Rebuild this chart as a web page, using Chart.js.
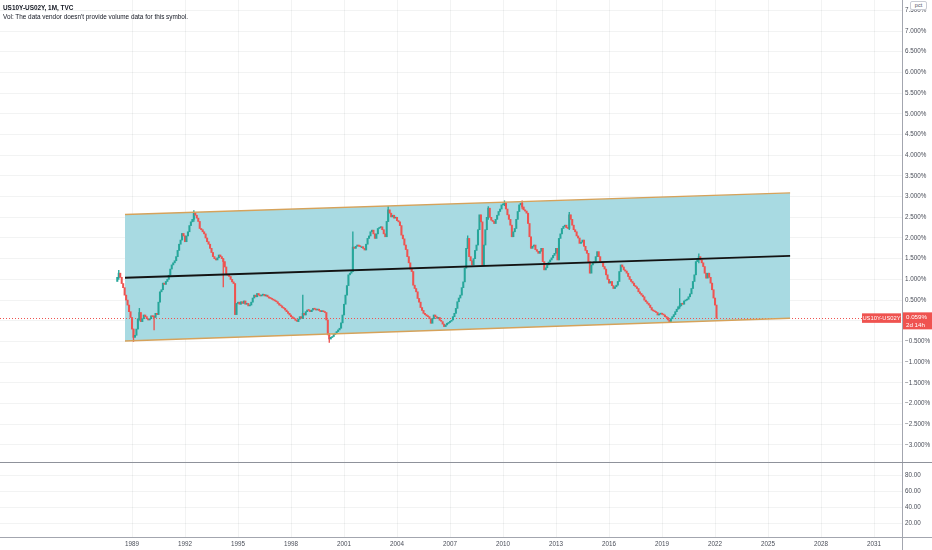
<!DOCTYPE html>
<html>
<head>
<meta charset="utf-8">
<script src="https://cdn.jsdelivr.net/npm/chart.js@4.4.0/dist/chart.umd.min.js"></script>
<style>
  html, body { margin: 0; padding: 0; background: #fff; }
  #wrap { position: relative; width: 932px; height: 550px; overflow: hidden; font-family: "Liberation Sans", Arial, sans-serif; }
  #main { position: absolute; left: 0; top: 0; }
  #vol { position: absolute; left: 0; top: 463px; }
  .legend { position: absolute; left: 3px; top: 3px; color: #131722; font-size: 6.4px; line-height: 9px; }
  .legend b { font-weight: bold; }
  .pct { position: absolute; left: 910px; top: 1px; width: 15px; height: 7px; background: #fff; border: 1px solid #c9ccd4;
         border-radius: 2px; font-size: 5.5px; line-height: 7px; text-align: center; color: #50535e; }
</style>
</head>
<body>
<div id="wrap">
  <canvas id="main" width="932" height="463"></canvas>
  <canvas id="vol" width="932" height="87"></canvas>
  <div class="legend"><b>US10Y-US02Y, 1M, TVC</b><br>Vol: The data vendor doesn't provide volume data for this symbol.</div>
  <div class="pct">pct</div>
</div>
<script>
// monthly closes (pct), first candle 1988-04, last 2022-03
const startMonth = -10;   // months relative to the 1989 tick
const firstOpen = 0.95;
const closes = [
  1.05, 1.15, 1.05, 0.90, 0.80, 0.62, 0.50, 0.38, 0.22, 0.08,
  -0.20, -0.40, -0.35, -0.20, 0.05, 0.20, -0.02, 0.05, 0.14, 0.10, 0.05, 0.02,
  0.05, 0.12, 0.10, 0.08, 0.18, 0.15, 0.45, 0.70, 0.75, 0.91, 0.88, 0.95,
  1.00, 1.10, 1.25, 1.35, 1.40, 1.45, 1.55, 1.70, 1.85, 1.95, 2.11, 2.05,
  1.91, 2.05, 2.15, 2.30, 2.39, 2.45, 2.60, 2.55, 2.48, 2.40, 2.23, 2.20,
  2.15, 2.10, 2.00, 1.91, 1.85, 1.75, 1.65, 1.55, 1.50, 1.47, 1.52, 1.59,
  1.55, 1.50, 1.43, 1.30, 1.11, 1.10, 1.07, 1.00, 0.94, 0.90, 0.15, 0.42,
  0.45, 0.40, 0.46, 0.42, 0.48, 0.40, 0.42, 0.36, 0.38, 0.45, 0.55, 0.62,
  0.58, 0.66, 0.62, 0.60, 0.62, 0.64, 0.60, 0.62, 0.58, 0.55, 0.54, 0.52,
  0.50, 0.48, 0.46, 0.42, 0.38, 0.36, 0.32, 0.30, 0.26, 0.22, 0.18, 0.14,
  0.10, 0.06, 0.05, 0.00, -0.02, 0.04, 0.10, 0.06, 0.18, 0.14, 0.22, 0.26,
  0.25, 0.22, 0.26, 0.30, 0.28, 0.26, 0.28, 0.25, 0.22, 0.24, 0.22, 0.20,
  0.02, -0.34, -0.44, -0.40, -0.38, -0.33, -0.30, -0.26, -0.22, -0.18, -0.05, 0.14,
  0.40, 0.62, 0.85, 1.11, 1.15, 1.19, 1.78, 1.75, 1.80, 1.83, 1.80, 1.79,
  1.79, 1.75, 1.71, 1.85, 1.99, 2.05, 2.15, 2.19, 2.10, 1.99, 2.10, 2.23,
  2.25, 2.27, 2.20, 2.10, 2.03, 2.40, 2.68, 2.60, 2.51, 2.55, 2.48, 2.50,
  2.42, 2.39, 2.30, 2.07, 1.98, 1.83, 1.72, 1.55, 1.40, 1.25, 1.19, 0.86,
  0.78, 0.70, 0.54, 0.45, 0.32, 0.25, 0.18, 0.15, 0.12, 0.10, 0.05, -0.06,
  0.05, 0.14, 0.10, 0.06, 0.08, 0.00, -0.02, -0.08, -0.14, -0.10, -0.06, -0.04,
  0.00, 0.02, 0.10, 0.18, 0.30, 0.46, 0.55, 0.62, 0.80, 0.94, 1.27, 1.75,
  1.99, 1.55, 1.45, 1.35, 1.50, 1.70, 1.83, 2.20, 2.56, 2.39, 1.35, 1.83,
  2.20, 2.50, 2.72, 2.50, 2.43, 2.40, 2.35, 2.45, 2.55, 2.64, 2.70, 2.80,
  2.82, 2.84, 2.70, 2.56, 2.45, 2.31, 2.03, 2.15, 2.23, 2.45, 2.64, 2.80,
  2.84, 2.75, 2.68, 2.65, 2.60, 2.35, 2.03, 1.75, 1.80, 1.83, 1.72, 1.68,
  1.63, 1.68, 1.75, 1.43, 1.23, 1.28, 1.35, 1.42, 1.47, 1.52, 1.58, 1.63,
  1.75, 1.47, 1.99, 2.10, 2.23, 2.28, 2.31, 2.25, 2.23, 2.56, 2.45, 2.31,
  2.20, 2.15, 2.05, 2.00, 1.87, 1.90, 1.95, 1.80, 1.70, 1.63, 1.43, 1.15,
  1.35, 1.40, 1.43, 1.55, 1.67, 1.55, 1.43, 1.40, 1.31, 1.25, 1.11, 1.00,
  0.91, 0.95, 0.85, 0.78, 0.82, 0.86, 0.95, 1.19, 1.35, 1.30, 1.23, 1.20,
  1.15, 1.07, 1.00, 0.95, 0.91, 0.85, 0.82, 0.78, 0.70, 0.66, 0.62, 0.58,
  0.50, 0.46, 0.42, 0.38, 0.32, 0.26, 0.24, 0.22, 0.20, 0.14, 0.16, 0.18,
  0.16, 0.14, 0.10, 0.08, 0.02, -0.02, 0.05, 0.10, 0.15, 0.22, 0.28, 0.34,
  0.36, 0.42, 0.40, 0.48, 0.50, 0.52, 0.58, 0.65, 0.78, 0.95, 1.11, 1.43,
  1.50, 1.55, 1.47, 1.40, 1.31, 1.15, 1.03, 1.15, 1.05, 0.91, 0.75, 0.55,
  0.38, 0.059
];
// visible wicks: [month, low, high]
const wicks = [
  [-9, 1.00, 1.22], [1, -0.50, -0.20], [5, 0.00, 0.30], [15, -0.22, 0.12],
  [42, 2.40, 2.66], [62, 0.82, 1.50], [116, 0.06, 0.62], [134, -0.52, -0.30],
  [150, 1.19, 2.15], [174, 2.40, 2.76], [228, 1.75, 2.05], [242, 2.45, 2.76],
  [253, 2.78, 2.90], [265, 2.70, 2.90], [297, 2.20, 2.62], [372, 0.30, 0.78],
  [385, 1.40, 1.62]
];

// regression channel (drawing)
const channelX = [-4.75, 447];
const channelUpper = [2.57, 3.09];
const channelMid = [1.04, 1.57];
const channelLower = [-0.49, 0.06];

const tickLabels = ['1989','1992','1995','1998','2001','2004','2007','2010','2013','2016','2019','2022','2025','2028','2031'];
const yTicks = [-3, -2.5, -2, -1.5, -1, -0.5, 0, 0.5, 1, 1.5, 2, 2.5, 3, 3.5, 4, 4.5, 5, 5.5, 6, 6.5, 7, 7.5];
const volTicks = [20, 40, 60, 80];
const lastPrice = 0.059;
const symbol = 'US10Y-US02Y';
const countdown = '2d 14h';

const UP = '#26a69a', DOWN = '#ef5350';
const GRID = 'rgba(42,46,57,0.06)';
const AXIS = '#a3a6af';
const FONT = '"Liberation Sans", Arial, sans-serif';
Chart.defaults.font.family = FONT;

const xMin = -89.66, xMax = 523.0;   // months, 1.472px each
const tickMonths = tickLabels.map(t => (Number(t) - 1989) * 12);

const bodies = closes.map((c, i) => ({ x: startMonth + i, y: [i ? closes[i - 1] : firstOpen, c] }));
const bodyColors = bodies.map(b => b.y[1] >= b.y[0] ? UP : DOWN);
const wickData = wicks.map(w => ({ x: w[0], y: [w[1], w[2]] }));
const wickColors = wicks.map(w => bodyColors[w[0] - startMonth]);

const fmtPct = v => (v < 0 ? '\u2212' : '') + Math.abs(v).toFixed(3) + '%';
const noPad = s => { s.paddingTop = 0; s.paddingBottom = 0; s.paddingLeft = 0; s.paddingRight = 0; };

const decor = {
  id: 'decor',
  beforeDatasetsDraw(chart) {
    const { ctx, chartArea: a, scales: { y } } = chart;
    const py = Math.round(y.getPixelForValue(lastPrice)) + 0.5;
    ctx.save();
    ctx.strokeStyle = DOWN;
    ctx.lineWidth = 1;
    ctx.setLineDash([1, 2]);
    ctx.beginPath(); ctx.moveTo(a.left, py); ctx.lineTo(a.right, py); ctx.stroke();
    ctx.restore();
  },
  afterDraw(chart) {
    const { ctx, chartArea: a, scales: { y } } = chart;
    const py = y.getPixelForValue(lastPrice);
    ctx.save();
    // symbol tag
    ctx.fillStyle = DOWN;
    ctx.fillRect(a.right - 40, py - 5, 39, 9.5);
    ctx.fillStyle = '#fff';
    ctx.font = '5.8px ' + FONT;
    ctx.textAlign = 'center'; ctx.textBaseline = 'middle';
    ctx.fillText(symbol, a.right - 20.5, py);
    // axis price tag
    ctx.fillStyle = DOWN;
    ctx.fillRect(a.right + 1, py - 6, chart.width - a.right - 1, 17);
    ctx.fillStyle = '#fff';
    ctx.font = '6.2px ' + FONT;
    ctx.textAlign = 'left';
    ctx.fillText(fmtPct(lastPrice), a.right + 4, py - 1);
    ctx.fillText(countdown, a.right + 4, py + 6.5);
    // pane separator
    ctx.strokeStyle = '#8f929b';
    ctx.beginPath(); ctx.moveTo(0, chart.height - 0.5); ctx.lineTo(chart.width, chart.height - 0.5); ctx.stroke();
    ctx.restore();
  }
};

new Chart(document.getElementById('main'), {
  type: 'bar',
  data: {
    datasets: [
      { type: 'line', data: channelX.map((x, i) => ({ x, y: channelMid[i] })), borderColor: '#131313', borderWidth: 1.8, pointRadius: 0, order: 0 },
      { type: 'line', data: channelX.map((x, i) => ({ x, y: channelUpper[i] })), borderColor: '#d6a25a', borderWidth: 1.5, pointRadius: 0,
        fill: 2, backgroundColor: '#a8dae2', order: 0 },
      { type: 'line', data: channelX.map((x, i) => ({ x, y: channelLower[i] })), borderColor: '#d6a25a', borderWidth: 1.5, pointRadius: 0, order: 0 },
      { data: bodies, backgroundColor: bodyColors, barThickness: 1.4, minBarLength: 1, grouped: false, order: 1 },
      { data: wickData, backgroundColor: wickColors, barThickness: 0.7, grouped: false, order: 2 }
    ]
  },
  options: {
    responsive: false,
    animation: false,
    layout: { padding: 0 },
    plugins: { legend: { display: false }, tooltip: { enabled: false }, filler: { drawTime: 'beforeDatasetsDraw' } },
    scales: {
      x: {
        type: 'linear', min: xMin, max: xMax, offset: false,
        afterBuildTicks: s => { s.ticks = tickMonths.map(v => ({ value: v })); },
        afterFit: s => { s.height = 0; noPad(s); },
        ticks: { display: false },
        grid: { color: GRID, drawTicks: false, offset: false },
        border: { display: false }
      },
      y: {
        position: 'right', min: -3.435, max: 7.749,
        afterBuildTicks: s => { s.ticks = yTicks.map(v => ({ value: v })); },
        afterFit: s => { s.width = 30; noPad(s); },
        ticks: { callback: v => fmtPct(v), color: '#4a4e59', font: { size: 6.3 }, padding: 3 },
        grid: { color: GRID, drawTicks: false },
        border: { color: AXIS }
      }
    }
  },
  plugins: [decor]
});

const volDecor = {
  id: 'volDecor',
  afterDraw(chart) {
    const { ctx, chartArea: a } = chart;
    ctx.save();
    ctx.strokeStyle = AXIS;
    ctx.lineWidth = 1;
    ctx.beginPath(); ctx.moveTo(0, a.bottom + 0.5); ctx.lineTo(chart.width, a.bottom + 0.5); ctx.stroke();
    ctx.beginPath(); ctx.moveTo(a.right + 0.5, 0); ctx.lineTo(a.right + 0.5, chart.height); ctx.stroke();
    ctx.restore();
  }
};

new Chart(document.getElementById('vol'), {
  type: 'line',
  data: { datasets: [] },
  options: {
    responsive: false,
    animation: false,
    layout: { padding: 0 },
    plugins: { legend: { display: false }, tooltip: { enabled: false } },
    scales: {
      x: {
        type: 'linear', min: xMin, max: xMax, offset: false,
        afterBuildTicks: s => { s.ticks = tickMonths.map(v => ({ value: v })); },
        afterFit: s => { s.height = 13; noPad(s); },
        ticks: { callback: (v, i) => tickLabels[i], color: '#4a4e59', font: { size: 6.3 }, padding: 3, maxRotation: 0, autoSkip: false },
        grid: { color: GRID, drawTicks: false, offset: false },
        border: { display: false }
      },
      y: {
        position: 'right', min: 2.3, max: 96.1,
        afterBuildTicks: s => { s.ticks = volTicks.map(v => ({ value: v })); },
        afterFit: s => { s.width = 30; noPad(s); },
        ticks: { callback: v => v.toFixed(2), color: '#4a4e59', font: { size: 6.3 }, padding: 3 },
        grid: { color: GRID, drawTicks: false },
        border: { color: AXIS }
      }
    }
  },
  plugins: [volDecor]
});
</script>
</body>
</html>
